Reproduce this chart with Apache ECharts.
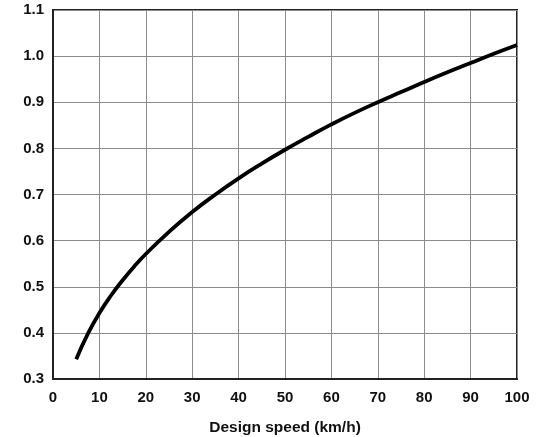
<!DOCTYPE html>
<html>
<head>
<meta charset="utf-8">
<script src="https://cdn.jsdelivr.net/npm/echarts@6/dist/echarts.min.js"></script>
<style>html,body{margin:0;padding:0;background:#fff;}#c{width:542px;height:437px;}</style>
</head>
<body>
<div id="c"></div>
<script>
const speeds = [5, 7.5, 10, 12.5, 15, 17.5, 20, 25, 30, 35, 40, 45, 50, 55, 60, 65, 70, 75, 80, 85, 90, 95, 100];
const values = [0.343, 0.398, 0.443, 0.481, 0.514, 0.544, 0.571, 0.619, 0.662, 0.700, 0.735, 0.767, 0.797, 0.825, 0.852, 0.877, 0.900, 0.922, 0.944, 0.965, 0.985, 1.005, 1.024];
const xTitle = 'Design speed (km/h)';

const chart = echarts.init(document.getElementById('c'), null, {renderer: 'canvas'});
const font = 'Liberation Sans, Arial, sans-serif';
chart.setOption({
  animation: false,
  backgroundColor: '#fff',
  grid: {left: 53, top: 10, width: 464, height: 369, show: true, borderColor: '#222', borderWidth: 2,
    backgroundColor: 'transparent', containLabel: false, outerBoundsMode: 'none'},
  xAxis: {
    type: 'value', min: 0, max: 100, interval: 10,
    name: xTitle, nameLocation: 'middle', nameGap: 41,
    nameTextStyle: {fontFamily: font, fontWeight: 'bold', fontSize: 15.5, color: '#111'},
    axisLine: {show: true, lineStyle: {color: '#222', width: 2}},
    axisTick: {show: false},
    axisLabel: {fontFamily: font, fontWeight: 'bold', fontSize: 15, color: '#111', margin: 11},
    splitLine: {show: true, lineStyle: {color: '#8c8c8c', width: 1}}
  },
  yAxis: {
    type: 'value', min: 0.3, max: 1.1, interval: 0.1,
    axisLine: {show: true, lineStyle: {color: '#222', width: 2}},
    axisTick: {show: false},
    axisLabel: {fontFamily: font, fontWeight: 'bold', fontSize: 15, color: '#111', margin: 9,
      formatter: v => v.toFixed(1)},
    splitLine: {show: true, lineStyle: {color: '#8c8c8c', width: 1}}
  },
  series: [{
    type: 'line',
    data: speeds.map((s, i) => [s, values[i]]),
    smooth: 0.5,
    showSymbol: false,
    lineStyle: {color: '#000', width: 3.8}
  }]
});
</script>
</body>
</html>
